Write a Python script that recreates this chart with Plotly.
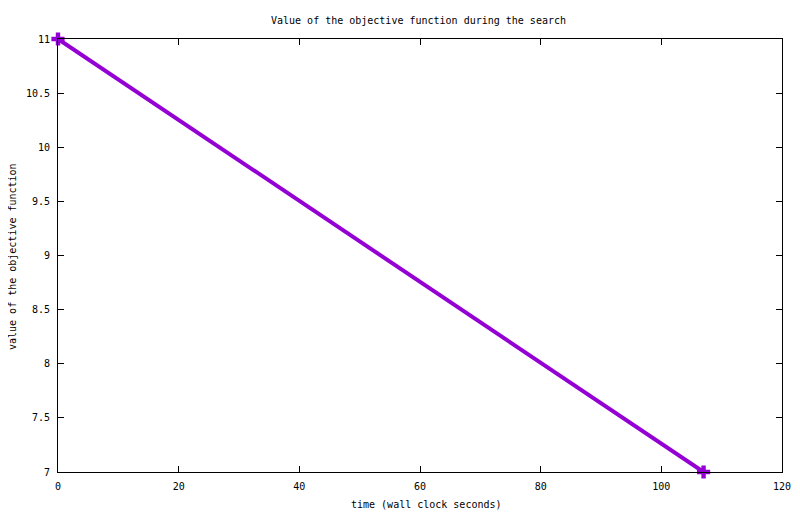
# Objective function over time (gnuplot-style look)

import plotly.graph_objects as go

time_s = [0, 107]
objective = [11, 7]

x_ticks = [0, 20, 40, 60, 80, 100, 120]
y_ticks = [7, 7.5, 8, 8.5, 9, 9.5, 10, 10.5, 11]

font = dict(family="DejaVu Sans Mono", size=10, color="black")

# the page draws the figure about 8px in from the corner
W, H = 800, 514
L, R, T, B = 50, 26, 31, 50
plot_w, plot_h = W - L - R, H - T - B


def px(x, y):
    # pixel position (figure coords) -> paper coords
    return (x - L) / plot_w, (H - B - y) / plot_h


fig = go.Figure()
fig.add_trace(go.Scatter(x=time_s, y=objective, mode="lines+markers",
                         line=dict(color="#9400D3", width=4),
                         marker=dict(symbol="cross", size=11, color="#9400D3"),
                         cliponaxis=False, showlegend=False))

fig.update_layout(
    width=W, height=H,
    margin=dict(l=L, r=R, t=T, b=B, autoexpand=False),
    paper_bgcolor="white", plot_bgcolor="white",
    font=font,
    title=dict(text="Value of the objective function during the search",
               x=410.5 / W, xanchor="center", y=1 - 12 / H, yanchor="middle", font=font),
)
fig.update_xaxes(range=[0, 120], tickvals=x_ticks, ticks="inside", ticklen=6,
                 showgrid=False, zeroline=False, showline=True, linecolor="black",
                 linewidth=1, mirror="ticks", tickcolor="black", tickfont=font,
                 ticklabelstandoff=5, automargin=False)
fig.update_yaxes(range=[7, 11], tickvals=y_ticks, ticks="inside", ticklen=6,
                 showgrid=False, zeroline=False, showline=True, linecolor="black",
                 linewidth=1, mirror="ticks", tickcolor="black", tickfont=font,
                 ticklabelstandoff=5, automargin=False)

ax, ay = px(418, 497)
fig.add_annotation(text="time (wall clock seconds)", x=ax, y=ay,
                   xref="paper", yref="paper", xanchor="center", yanchor="middle",
                   showarrow=False, font=font)
ax, ay = px(4, 249)
fig.add_annotation(text="value of the objective function", textangle=-90,
                   x=ax, y=ay, xref="paper", yref="paper",
                   xanchor="center", yanchor="middle", showarrow=False, font=font)

fig.write_html("out.html")
